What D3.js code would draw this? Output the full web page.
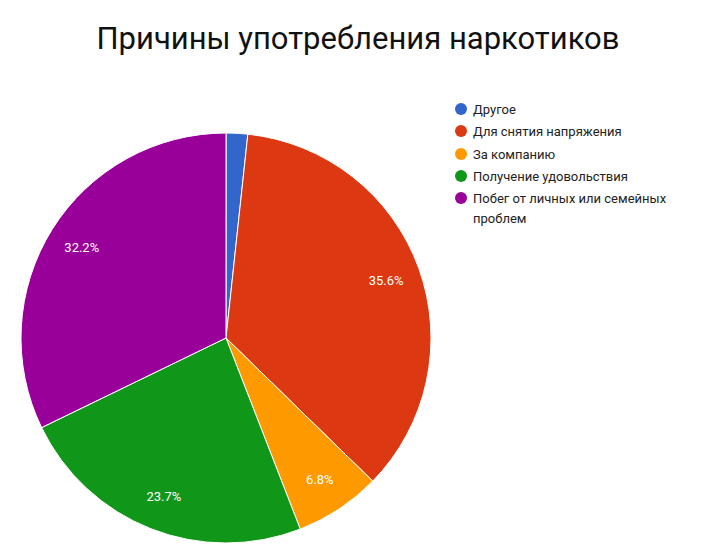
<!DOCTYPE html>
<html>
<head>
<meta charset="utf-8">
<script src="https://cdn.jsdelivr.net/npm/d3@7"></script>
<style>
  body { margin: 0; background: #fff; font-family: Roboto, Arial, sans-serif; }
</style>
</head>
<body>
<svg id="chart" width="720" height="558"></svg>
<script>
var categories = ["Другое", "Для снятия напряжения", "За компанию", "Получение удовольствия", "Побег от личных или семейных проблем"];
var values = [1.7, 35.6, 6.8, 23.7, 32.2];
var colors = ["#3366cc", "#dc3912", "#ff9900", "#109618", "#990099"];

var svg = d3.select("#chart");
var cx = 226, cy = 338, r = 205;

svg.append("text")
  .attr("x", 358).attr("y", 49)
  .attr("text-anchor", "middle")
  .attr("font-size", 31)
  .attr("fill", "#111")
  .text("Причины употребления наркотиков");

var pie = d3.pie().sort(null).value(function(d) { return d; });
var arc = d3.arc().innerRadius(0).outerRadius(r);
var labelArc = d3.arc().innerRadius(r * 0.83).outerRadius(r * 0.83);
var arcs = pie(values);

var g = svg.append("g").attr("transform", "translate(" + cx + "," + cy + ")");
g.selectAll("path").data(arcs).enter().append("path")
  .attr("d", arc)
  .attr("fill", function(d, i) { return colors[i]; })
  .attr("stroke", "#fff").attr("stroke-width", 1);

g.selectAll("text").data(arcs.filter(function(d) { return d.data > 5; })).enter().append("text")
  .attr("transform", function(d) { return "translate(" + labelArc.centroid(d) + ")"; })
  .attr("text-anchor", "middle").attr("dy", "0.35em")
  .attr("font-size", 13).attr("fill", "#fff")
  .text(function(d) { return d.data.toFixed(1) + "%"; });

// legend
var legendY = [109, 131, 154, 176, 198];
var leg = svg.append("g");
categories.forEach(function(c, i) {
  leg.append("circle").attr("cx", 461).attr("cy", legendY[i]).attr("r", 6).attr("fill", colors[i]);
  var t = leg.append("text").attr("x", 473).attr("y", legendY[i] + 4.5)
    .attr("font-size", 13).attr("fill", "#222");
  if (i === 4) {
    t.append("tspan").attr("x", 473).text("Побег от личных или семейных");
    t.append("tspan").attr("x", 473).attr("dy", 20).text("проблем");
  } else {
    t.text(c);
  }
});
</script>
</body>
</html>
